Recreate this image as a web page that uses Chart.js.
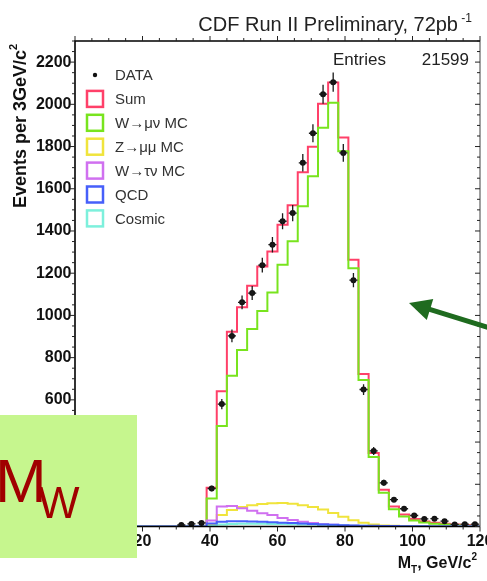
<!DOCTYPE html>
<html>
<head>
<meta charset="utf-8">
<title>CDF Run II W transverse mass</title>
<script src="https://cdn.jsdelivr.net/npm/chart.js@4.4.1/dist/chart.umd.min.js"></script>
<style>
	html, body { margin: 0; padding: 0; background: #fff; }
	canvas { display: block; }
</style>
</head>
<body>
<canvas id="chart" width="487" height="581"></canvas>
<script>
"use strict";

// Binning: 40 bins of 3 GeV/c^2, from 0 to 120

var BIN_WIDTH = 3,
	X_MIN = 0,
	X_MAX = 120,
	Y_MIN = 0,
	Y_MAX = 2300;

var X_TICKS = [0, 20, 40, 60, 80, 100, 120],
	Y_TICKS = [0, 200, 400, 600, 800, 1000, 1200, 1400, 1600, 1800, 2000, 2200];

// Events per bin (bin i covers [3i, 3i+3])

var DATA = [
	null, null, null, null, null, null, null, null, null, null,
	7, 12, 17, 180, 580, 903, 1062, 1106, 1238, 1335,
	1446, 1485, 1723, 1863, 2048, 2105, 1770, 1167, 649, 358,
	207, 127, 84, 52, 36, 37, 25, 10, 11, 11
];

var SUM_MC = [
	0, 0, 0, 0, 0, 0, 0, 0, 0, 0,
	0, 0, 0, 184, 641, 923, 1039, 1140, 1232, 1303,
	1430, 1522, 1678, 1799, 2003, 2103, 1843, 1264, 722, 348,
	174, 95, 57, 36, 24, 18, 13, 10, 7, 5
];

var WMUNU_MC = [
	0, 0, 0, 0, 0, 0, 0, 0, 0, 0,
	0, 0, 0, 133, 476, 714, 836, 936, 1021, 1108,
	1240, 1351, 1517, 1659, 1889, 2008, 1778, 1224, 694, 329,
	160, 82, 47, 28, 19, 13, 9, 6, 4, 3
];

var ZMUMU_MC = [
	0, 0, 0, 0, 0, 0, 0, 0, 0, 0,
	0, 0, 0, 12, 55, 78, 92, 101, 107, 110,
	111, 108, 101, 92, 80, 64, 46, 30, 18, 10,
	5, 3, 1, 0, 0, 0, 0, 0, 0, 0
];

var WTAUNU_MC = [
	0, 0, 0, 0, 0, 0, 0, 0, 0, 0,
	0, 0, 0, 28, 95, 97, 86, 75, 63, 55,
	40, 31, 23, 17, 12, 8, 5, 3, 2, 1,
	0, 0, 0, 0, 0, 0, 0, 0, 0, 0
];

var QCD = [
	0, 0, 0, 0, 0, 0, 0, 0, 0, 0,
	0, 0, 0, 14, 23, 25, 25, 24, 22, 20,
	18, 16, 14, 12, 10, 8, 6, 5, 4, 3,
	2, 2, 1, 1, 1, 0, 0, 0, 0, 0
];

var COSMIC = [
	0, 0, 0, 0, 0, 0, 0, 0, 0, 0,
	0, 0, 0, 3, 9, 12, 13, 13, 13, 12,
	12, 11, 10, 9, 8, 6, 5, 4, 3, 2,
	1, 0, 0, 0, 0, 0, 0, 0, 0, 0
];

var ENTRIES = 21599;

// Styles

var FONT = "'Liberation Sans', Arial, Helvetica, sans-serif",
	RED = "rgb(255, 64, 105)",
	GREEN = "rgb(120, 228, 30)",
	YELLOW = "rgb(240, 228, 60)",
	MAGENTA = "rgb(208, 112, 240)",
	BLUE = "rgb(70, 95, 250)",
	CYAN = "rgb(125, 240, 220)";

// Helpers

// step outline of a histogram: one point per low edge, plus the last high edge
function histPoints(values) {
	var pts = [];

	for (var i = 0; i < values.length; i++) {
		pts.push({x: X_MIN + i * BIN_WIDTH, y: values[i]});
	}
	pts.push({x: X_MIN + values.length * BIN_WIDTH, y: values[values.length - 1]});
	return pts;
}

function dataPoints(values) {
	var pts = [];

	for (var i = 0; i < values.length; i++) {
		if (values[i] !== null) {
			pts.push({x: X_MIN + (i + 0.5) * BIN_WIDTH, y: values[i]});
		}
	}
	return pts;
}

function histDataset(label, values, color, order) {
	return {
		label: label,
		data: histPoints(values),
		borderColor: color,
		backgroundColor: color,
		borderWidth: 2,
		stepped: true,
		pointRadius: 0,
		fill: false,
		order: order
	};
}

// draws main text followed by a raised (sup) or lowered (sub) small text
function textWithScript(ctx, parts, x, y, align) {
	var total = 0, i, cx;

	for (i = 0; i < parts.length; i++) {
		ctx.font = parts[i].font;
		parts[i].w = ctx.measureText(parts[i].text).width;
		total += parts[i].w;
	}
	cx = align === "right" ? x - total : (align === "center" ? x - total / 2 : x);
	ctx.textAlign = "left";
	ctx.textBaseline = "alphabetic";
	for (i = 0; i < parts.length; i++) {
		ctx.font = parts[i].font;
		ctx.fillText(parts[i].text, cx, y + (parts[i].dy || 0));
		cx += parts[i].w;
	}
}

// Plugin: error bars, frame ticks, texts, legend, slide overlay

function drawErrorBars(chart) {
	var ctx = chart.ctx,
		meta = chart.getDatasetMeta(0),
		xs = chart.scales.x, ys = chart.scales.y,
		half = 1.2;

	ctx.save();
	ctx.strokeStyle = "#1a1a1a";
	ctx.lineWidth = 1.3;
	meta.data.forEach(function (pt, i) {
		var raw = chart.data.datasets[0].data[i],
			err = Math.sqrt(raw.y);

		ctx.beginPath();
		ctx.moveTo(pt.x, ys.getPixelForValue(raw.y - err));
		ctx.lineTo(pt.x, ys.getPixelForValue(raw.y + err));
		ctx.moveTo(xs.getPixelForValue(raw.x - half), pt.y);
		ctx.lineTo(xs.getPixelForValue(raw.x + half), pt.y);
		ctx.stroke();
	});
	ctx.restore();
}

function drawFrame(chart) {
	var ctx = chart.ctx, a = chart.chartArea,
		xs = chart.scales.x, ys = chart.scales.y, v, p, len;

	ctx.save();
	ctx.lineWidth = 1.6;
	ctx.strokeStyle = "#888";
	ctx.beginPath();
	ctx.moveTo(a.right, a.top);
	ctx.lineTo(a.right, a.bottom);
	ctx.stroke();
	ctx.strokeStyle = "#000";
	ctx.beginPath();
	ctx.moveTo(a.right, a.top);
	ctx.lineTo(a.left, a.top);
	ctx.lineTo(a.left, a.bottom);
	ctx.lineTo(a.right, a.bottom);
	ctx.stroke();

	ctx.lineWidth = 1;
	ctx.strokeStyle = "#222";
	ctx.beginPath();
	for (v = X_MIN; v <= X_MAX; v += 5) {
		p = xs.getPixelForValue(v);
		len = v % 20 === 0 ? 5 : 3;
		ctx.moveTo(p, a.bottom);
		ctx.lineTo(p, a.bottom + len);
		ctx.moveTo(p, a.top);
		ctx.lineTo(p, a.top - len);
	}
	for (v = Y_MIN; v <= Y_MAX; v += 50) {
		p = ys.getPixelForValue(v);
		len = v % 200 === 0 ? 5 : 3;
		ctx.moveTo(a.left, p);
		ctx.lineTo(a.left - len, p);
		ctx.moveTo(a.right, p);
		ctx.lineTo(a.right - len, p);
	}
	ctx.stroke();
	ctx.restore();
}

function drawTexts(chart) {
	var ctx = chart.ctx;

	ctx.save();
	ctx.fillStyle = "#222";
	textWithScript(ctx, [
		{text: "CDF Run II Preliminary, 72pb", font: "20px " + FONT},
		{text: " -1", font: "12px " + FONT, dy: -9}
	], 472, 31, "right");

	ctx.font = "17px " + FONT;
	ctx.textAlign = "left";
	ctx.fillText("Entries", 333, 65);
	ctx.textAlign = "right";
	ctx.fillText(String(ENTRIES), 469, 65);

	ctx.fillStyle = "#111";
	textWithScript(ctx, [
		{text: "M", font: "bold 16px " + FONT},
		{text: "T", font: "bold 10px " + FONT, dy: 5},
		{text: ", GeV/c", font: "bold 16px " + FONT},
		{text: "2", font: "bold 10px " + FONT, dy: -8}
	], 477, 568, "right");

	ctx.translate(26, 126);
	ctx.rotate(-Math.PI / 2);
	textWithScript(ctx, [
		{text: "Events per 3GeV/c", font: "bold 18px " + FONT},
		{text: "2", font: "bold 11px " + FONT, dy: -9}
	], 0, 0, "center");
	ctx.restore();
}

function drawLegend(chart) {
	var ctx = chart.ctx, sets = chart.data.datasets,
		x0 = 87, y0 = 75, step = 23.9, box = 16;

	ctx.save();
	ctx.font = "15px " + FONT;
	ctx.textAlign = "left";
	ctx.textBaseline = "middle";
	sets.forEach(function (ds, i) {
		var y = y0 + i * step;

		if (i === 0) {
			ctx.fillStyle = "#111";
			ctx.beginPath();
			ctx.arc(x0 + box / 2, y, 2.2, 0, 2 * Math.PI);
			ctx.fill();
		}
		else {
			ctx.fillStyle = "#fff";
			ctx.fillRect(x0, y - box / 2, box, box);
			ctx.strokeStyle = ds.borderColor;
			ctx.lineWidth = 2.5;
			ctx.strokeRect(x0, y - box / 2, box, box);
		}
		ctx.fillStyle = "#333";
		ctx.fillText(ds.label, 115, y + 1);
	});
	ctx.restore();
}

// light green slide label box and the pointing arrow
function drawOverlay(chart) {
	var ctx = chart.ctx,
		tip = {x: 409, y: 303}, tail = {x: 490, y: 328},
		dx = tail.x - tip.x, dy = tail.y - tip.y,
		d = Math.sqrt(dx * dx + dy * dy), ux = dx / d, uy = dy / d,
		bx = tip.x + ux * 22, by = tip.y + uy * 22;

	ctx.save();
	ctx.fillStyle = "rgb(198, 246, 142)";
	ctx.fillRect(0, 415, 137, 143);
	ctx.fillStyle = "#a00000";
	ctx.textAlign = "left";
	ctx.textBaseline = "alphabetic";
	ctx.font = "62px " + FONT;
	ctx.fillText("M", -5, 502);
	ctx.font = "44px " + FONT;
	ctx.fillText("W", 38, 518);

	ctx.strokeStyle = "#1f6b1f";
	ctx.fillStyle = "#1f6b1f";
	ctx.lineWidth = 5;
	ctx.beginPath();
	ctx.moveTo(tail.x, tail.y);
	ctx.lineTo(bx - ux * 2, by - uy * 2);
	ctx.stroke();
	ctx.beginPath();
	ctx.moveTo(tip.x, tip.y);
	ctx.lineTo(bx - uy * 11, by + ux * 11);
	ctx.lineTo(bx + uy * 11, by - ux * 11);
	ctx.closePath();
	ctx.fill();
	ctx.restore();
}

var decorations = {
	id: "decorations",
	afterDatasetsDraw: function (chart) {
		drawErrorBars(chart);
	},
	afterDraw: function (chart) {
		drawFrame(chart);
		drawTexts(chart);
		drawLegend(chart);
		drawOverlay(chart);
	}
};

function plainLabel(value) {
	return String(value);
}

// Chart

new Chart(document.getElementById("chart"), {
	type: "line",
	data: {
		datasets: [
			{
				label: "DATA",
				data: dataPoints(DATA),
				showLine: false,
				pointRadius: 3,
				pointBackgroundColor: "#111",
				pointBorderWidth: 0,
				borderColor: "#111",
				order: 0
			},
			histDataset("Sum", SUM_MC, RED, 6),
			histDataset("W\u2192\u03bc\u03bd MC", WMUNU_MC, GREEN, 5),
			histDataset("Z\u2192\u03bc\u03bc MC", ZMUMU_MC, YELLOW, 4),
			histDataset("W\u2192\u03c4\u03bd MC", WTAUNU_MC, MAGENTA, 3),
			histDataset("QCD", QCD, BLUE, 1),
			histDataset("Cosmic", COSMIC, CYAN, 2)
		]
	},
	options: {
		responsive: false,
		devicePixelRatio: 1,
		animation: false,
		events: [],
		layout: {padding: {top: 41, right: 7, left: 0, bottom: 0}},
		plugins: {
			legend: {display: false},
			tooltip: {enabled: false},
			title: {display: false}
		},
		scales: {
			x: {
				type: "linear",
				min: X_MIN,
				max: X_MAX,
				afterFit: function (s) {
					s.height = 54.5;
					s.paddingLeft = 0;
					s.paddingRight = 0;
				},
				afterBuildTicks: function (s) {
					s.ticks = X_TICKS.map(function (v) { return {value: v}; });
				},
				grid: {display: false, drawTicks: false},
				border: {display: false},
				ticks: {
					padding: 5.5,
					color: "#111",
					font: {family: FONT, size: 16, weight: "bold"},
					maxRotation: 0,
					callback: plainLabel
				}
			},
			y: {
				type: "linear",
				min: Y_MIN,
				max: Y_MAX,
				afterFit: function (s) {
					s.width = 75;
					s.paddingTop = 0;
					s.paddingBottom = 0;
				},
				afterBuildTicks: function (s) {
					s.ticks = Y_TICKS.map(function (v) { return {value: v}; });
				},
				grid: {display: false, drawTicks: false},
				border: {display: false},
				ticks: {
					padding: 3.5,
					color: "#111",
					font: {family: FONT, size: 16, weight: "bold"},
					callback: plainLabel
				}
			}
		}
	},
	plugins: [decorations]
});
</script>
</body>
</html>
